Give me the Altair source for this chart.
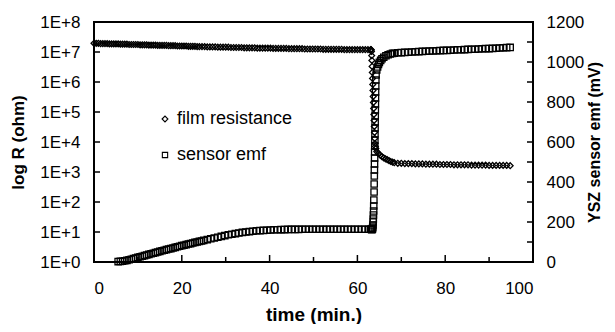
import altair as alt
import pandas as pd

# ---------------- data ----------------
# film resistance: time (min) and log10 R (ohm)
RES_TIME = [
    0.0, 0.5, 1.0, 1.5, 2.0, 2.5, 3.0, 3.5, 4.0, 4.5, 5.0, 5.5, 6.0, 6.5, 7.0, 7.5,
    8.0, 8.5, 9.0, 9.5, 10.0, 10.5, 11.0, 11.5, 12.0, 12.5, 13.0, 13.5, 14.0, 14.5,
    15.0, 15.5, 16.0, 16.5, 17.0, 17.5, 18.0, 18.5, 19.0, 19.5, 20.0, 20.5, 21.0,
    21.5, 22.0, 22.5, 23.0, 23.5, 24.0,
    24.6, 25.2, 25.8, 26.4, 27.0, 27.6, 28.2, 28.8, 29.4, 30.0, 30.6, 31.2, 31.8,
    32.4, 33.0, 33.6, 34.2, 34.8, 35.4, 36.0, 36.6, 37.2, 37.8, 38.4, 39.0, 39.6,
    40.2, 40.8, 41.4, 42.0, 42.6, 43.2, 43.8, 44.4, 45.0, 45.6, 46.2, 46.8, 47.4,
    48.0, 48.6, 49.2, 49.8, 50.4, 51.0, 51.6, 52.2, 52.8, 53.4, 54.0, 54.6, 55.2,
    55.8, 56.4, 57.0, 57.6, 58.2, 58.8, 59.4, 60.0, 60.6, 61.2, 61.8, 62.4, 63.0,
    63.1, 63.15, 63.2, 63.25, 63.3, 63.35, 63.4, 63.45, 63.5, 63.55, 63.6, 63.65,
    63.7, 63.75, 63.8, 63.85, 63.9, 63.95, 64.0, 64.1, 64.2,
    64.4, 64.8, 65.2, 65.6, 66.0, 66.4, 66.8, 67.2, 67.6, 68.0, 68.4,
    69.2, 70.0, 70.8, 71.6, 72.4, 73.2, 74.0, 74.8, 75.6, 76.4, 77.2, 78.0, 78.8,
    79.6, 80.4, 81.2, 82.0, 82.8, 83.6, 84.4, 85.2, 86.0, 86.8, 87.6, 88.4, 89.2,
    90.0, 90.8, 91.6, 92.4, 93.2, 94.0, 94.8,
]
RES_LOGR = [
    7.29, 7.29, 7.29, 7.28, 7.28, 7.28, 7.28, 7.27, 7.27, 7.27, 7.27, 7.27, 7.26, 7.26, 7.26, 7.26,
    7.25, 7.25, 7.25, 7.25, 7.25, 7.24, 7.24, 7.24, 7.24, 7.23, 7.23, 7.23, 7.23, 7.22,
    7.22, 7.22, 7.22, 7.22, 7.21, 7.21, 7.21, 7.21, 7.20, 7.20, 7.20, 7.20, 7.20,
    7.19, 7.19, 7.19, 7.19, 7.18, 7.18,
    7.18, 7.18, 7.17, 7.17, 7.17, 7.17, 7.16, 7.16, 7.16, 7.16, 7.16, 7.15, 7.15,
    7.15, 7.15, 7.15, 7.14, 7.14, 7.14, 7.14, 7.14, 7.13, 7.13, 7.13, 7.13, 7.13,
    7.13, 7.12, 7.12, 7.12, 7.12, 7.12, 7.12, 7.11, 7.11, 7.11, 7.11, 7.11, 7.11,
    7.10, 7.10, 7.10, 7.10, 7.10, 7.10, 7.10, 7.09, 7.09, 7.09, 7.09, 7.09, 7.09,
    7.09, 7.09, 7.08, 7.08, 7.08, 7.08, 7.08, 7.08, 7.08, 7.08, 7.08, 7.08, 7.08,
    7.08, 7.07, 7.02, 6.88, 6.72, 6.52, 6.32, 6.12, 5.92, 5.72, 5.52, 5.32,
    5.12, 4.92, 4.72, 4.52, 4.32, 4.12, 3.95, 3.85, 3.78,
    3.68, 3.62, 3.56, 3.51, 3.47, 3.44, 3.41, 3.38, 3.35, 3.33, 3.31,
    3.29, 3.29, 3.28, 3.28, 3.28, 3.27, 3.27, 3.27, 3.26, 3.26, 3.26, 3.26, 3.25,
    3.25, 3.25, 3.25, 3.24, 3.24, 3.24, 3.24, 3.24, 3.23, 3.23, 3.23, 3.23, 3.23,
    3.22, 3.22, 3.22, 3.22, 3.22, 3.22, 3.21,
]

# YSZ sensor emf: time (min) and emf (mV)
EMF_TIME = [
    5.5, 6.0, 6.5, 7.0, 7.5, 8.0, 8.5, 9.0, 9.5, 10.0, 10.5, 11.0, 11.5, 12.0, 12.5,
    13.0, 13.5, 14.0, 14.5, 15.0, 15.5, 16.0, 16.5, 17.0, 17.5, 18.0, 18.5, 19.0,
    19.5, 20.0, 20.5, 21.0, 21.5, 22.0, 22.5, 23.0, 23.5, 24.0, 24.5, 25.0,
    25.8, 26.6, 27.4, 28.2, 29.0, 29.8, 30.6, 31.4, 32.2, 33.0, 33.8, 34.6, 35.4,
    36.2, 37.0, 37.8, 38.6, 39.4, 40.2, 41.0, 41.8, 42.6, 43.4, 44.2, 45.0, 45.8,
    46.6, 47.4, 48.2, 49.0, 49.8, 50.6, 51.4, 52.2, 53.0, 53.8, 54.6, 55.4, 56.2,
    57.0, 57.8, 58.6, 59.4, 60.2, 61.0, 61.8, 62.6,
    63.0, 63.2, 63.3, 63.4, 63.45, 63.5,
    63.55, 63.6, 63.62, 63.65, 63.7, 63.72, 63.75, 63.8, 63.82, 63.85, 63.87, 63.9,
    63.92, 63.94, 63.96, 63.98, 64.0, 64.02, 64.04, 64.06, 64.08, 64.1, 64.12,
    64.14, 64.17, 64.2, 64.25,
    64.4, 64.6, 64.8, 65.0, 65.3, 65.6, 66.0, 66.5, 67.0, 67.5, 68.0,
    68.4, 69.2, 70.0, 70.8, 71.6, 72.4, 73.2, 74.0, 74.8, 75.6, 76.4, 77.2, 78.0,
    78.8, 79.6, 80.4, 81.2, 82.0, 82.8, 83.6, 84.4, 85.2, 86.0, 86.8, 87.6, 88.4,
    89.2, 90.0, 90.8, 91.6, 92.4, 93.2, 94.0, 94.8,
]
EMF_MV = [
    2, 3, 4, 6, 8, 11, 14, 17, 20, 23, 26, 29, 32, 35, 38,
    41, 44, 47, 50, 53, 56, 59, 62, 65, 67, 70, 73, 76,
    79, 82, 84, 87, 90, 92, 95, 98, 100, 103, 105, 108,
    112, 116, 120, 124, 128, 132, 136, 139, 142, 145, 148, 150, 152,
    154, 156, 157, 158, 159, 160, 161, 161, 162, 162, 163, 163, 163,
    163, 164, 164, 164, 164, 164, 164, 164, 164, 164, 164, 164, 164,
    164, 164, 164, 164, 164, 164, 164, 164,
    164, 163, 162, 164, 168, 175,
    185, 200, 215, 235, 255, 280, 310, 350, 390, 430, 460, 490,
    520, 550, 580, 610, 640, 670, 700, 730, 760, 790, 820,
    850, 880, 910, 935,
    960, 975, 988, 998, 1008, 1016, 1024, 1031, 1036, 1040, 1043,
    1044, 1046, 1047, 1048, 1049, 1050, 1051, 1052, 1053, 1054, 1055, 1055, 1056,
    1057, 1058, 1058, 1059, 1060, 1061, 1061, 1062, 1063, 1064, 1064, 1065, 1066,
    1067, 1067, 1068, 1069, 1070, 1071, 1072, 1073,
]

X_LABELS = [0, 20, 40, 60, 80, 100]
X_MAJOR_TICKS = [20, 40, 60, 80]
X_MINOR_TICKS = [10, 30, 50, 70, 90]
LEFT_TICKS = [0, 1, 2, 3, 4, 5, 6, 7, 8]
RIGHT_LABELS = [0, 200, 400, 600, 800, 1000, 1200]
RIGHT_TICKS = [0, 100, 200, 300, 400, 500, 600, 700, 800, 900, 1000, 1100, 1200]
LEGEND_LABELS = ["film resistance", "sensor emf"]

# ---------------- chart ----------------
W, H = 439, 240
FONT = "Liberation Sans"

res_df = pd.DataFrame({"t": RES_TIME, "logR": RES_LOGR})
emf_df = pd.DataFrame({"t": EMF_TIME, "emf": EMF_MV})

xs = alt.Scale(domain=[0, 100], nice=False, zero=False)
ysL = alt.Scale(domain=[0, 8], nice=False, zero=False)
ysR = alt.Scale(domain=[0, 1200], nice=False, zero=False)

x_axis = alt.Axis(
    values=X_LABELS, title="time (min.)", ticks=False, tickSize=0, domain=False,
    grid=False, labelFontSize=17, labelPadding=18, titleFontSize=19,
    titleFontWeight="bold", titlePadding=9, labelFont=FONT, titleFont=FONT,
)
yL_axis = alt.Axis(
    values=LEFT_TICKS, title="log R (ohm)", ticks=False, tickSize=0, domain=False,
    grid=False, labelFontSize=17, labelPadding=14, labelExpr="'1E+' + datum.value",
    titleFontSize=17, titleFontWeight="bold", titlePadding=12, labelFont=FONT,
    titleFont=FONT, orient="left",
)
yR_axis = alt.Axis(
    values=RIGHT_LABELS, title="YSZ sensor emf (mV)", ticks=False, tickSize=0,
    domain=False, grid=False, labelFontSize=17, labelPadding=13, titleFontSize=16,
    titleFontWeight="bold", titlePadding=3, titleAngle=270, titleBaseline="top",
    labelExpr="datum.value + ''",
    labelFont=FONT, titleFont=FONT, orient="right",
)

MARK_SW = 1.3

res_pts = alt.Chart(res_df).mark_point(
    shape="diamond", filled=False, color="black", strokeWidth=MARK_SW, size=34, opacity=1
).encode(
    x=alt.X("t:Q", scale=xs, axis=x_axis),
    y=alt.Y("logR:Q", scale=ysL, axis=yL_axis),
)

left_ticks = alt.Chart(pd.DataFrame({"v": LEFT_TICKS})).mark_rule(
    color="black", strokeWidth=1.5
).encode(
    y=alt.Y("v:Q", scale=ysL, axis=yL_axis),
    x=alt.value(0), x2=alt.value(6),
)

xmaj = alt.Chart(pd.DataFrame({"t": X_MAJOR_TICKS})).mark_rule(
    color="black", strokeWidth=1.5
).encode(
    x=alt.X("t:Q", scale=xs, axis=x_axis),
    y=alt.value(H - 7), y2=alt.value(H),
)
xmin = alt.Chart(pd.DataFrame({"t": X_MINOR_TICKS})).mark_rule(
    color="black", strokeWidth=1.5
).encode(
    x=alt.X("t:Q", scale=xs, axis=x_axis),
    y=alt.value(H - 5), y2=alt.value(H),
)

leg_df = pd.DataFrame({"label": LEGEND_LABELS})
leg1_sym = alt.Chart(leg_df.iloc[[0]]).mark_point(
    shape="diamond", filled=False, color="black", strokeWidth=1.1, size=34, opacity=1
).encode(x=alt.value(71), y=alt.value(97))
leg2_sym = alt.Chart(leg_df.iloc[[1]]).mark_point(
    shape="square", filled=False, color="black", strokeWidth=1.1, size=28, opacity=1
).encode(x=alt.value(71), y=alt.value(133))
leg1_txt = alt.Chart(leg_df.iloc[[0]]).mark_text(
    align="left", baseline="middle", font=FONT, fontSize=18, color="black"
).encode(x=alt.value(83), y=alt.value(97), text="label:N")
leg2_txt = alt.Chart(leg_df.iloc[[1]]).mark_text(
    align="left", baseline="middle", font=FONT, fontSize=18, color="black"
).encode(x=alt.value(83), y=alt.value(133), text="label:N")

layer_left = alt.layer(left_ticks, xmaj, xmin, res_pts, leg1_sym, leg2_sym, leg1_txt, leg2_txt)

emf_pts = alt.Chart(emf_df).mark_point(
    shape="square", filled=False, color="black", strokeWidth=MARK_SW, size=40, opacity=1
).encode(
    x=alt.X("t:Q", scale=xs, axis=x_axis),
    y=alt.Y("emf:Q", scale=ysR, axis=yR_axis),
)
right_ticks = alt.Chart(pd.DataFrame({"v": RIGHT_TICKS})).mark_rule(
    color="black", strokeWidth=1.5
).encode(
    y=alt.Y("v:Q", scale=ysR, axis=yR_axis),
    x=alt.value(W - 6), x2=alt.value(W),
)
layer_right = alt.layer(right_ticks, emf_pts)

chart = alt.layer(layer_left, layer_right).resolve_scale(y="independent").properties(
    width=W, height=H,
    padding={"left": 86, "top": 14, "right": 74, "bottom": 62},
    autosize=alt.AutoSizeParams(type="none"),
    background="white",
).configure_view(
    stroke="black", strokeWidth=2
).configure_axis(
    labelColor="black", titleColor="black"
)

chart.save("out.html", embed_options={"renderer": "svg", "actions": False})
